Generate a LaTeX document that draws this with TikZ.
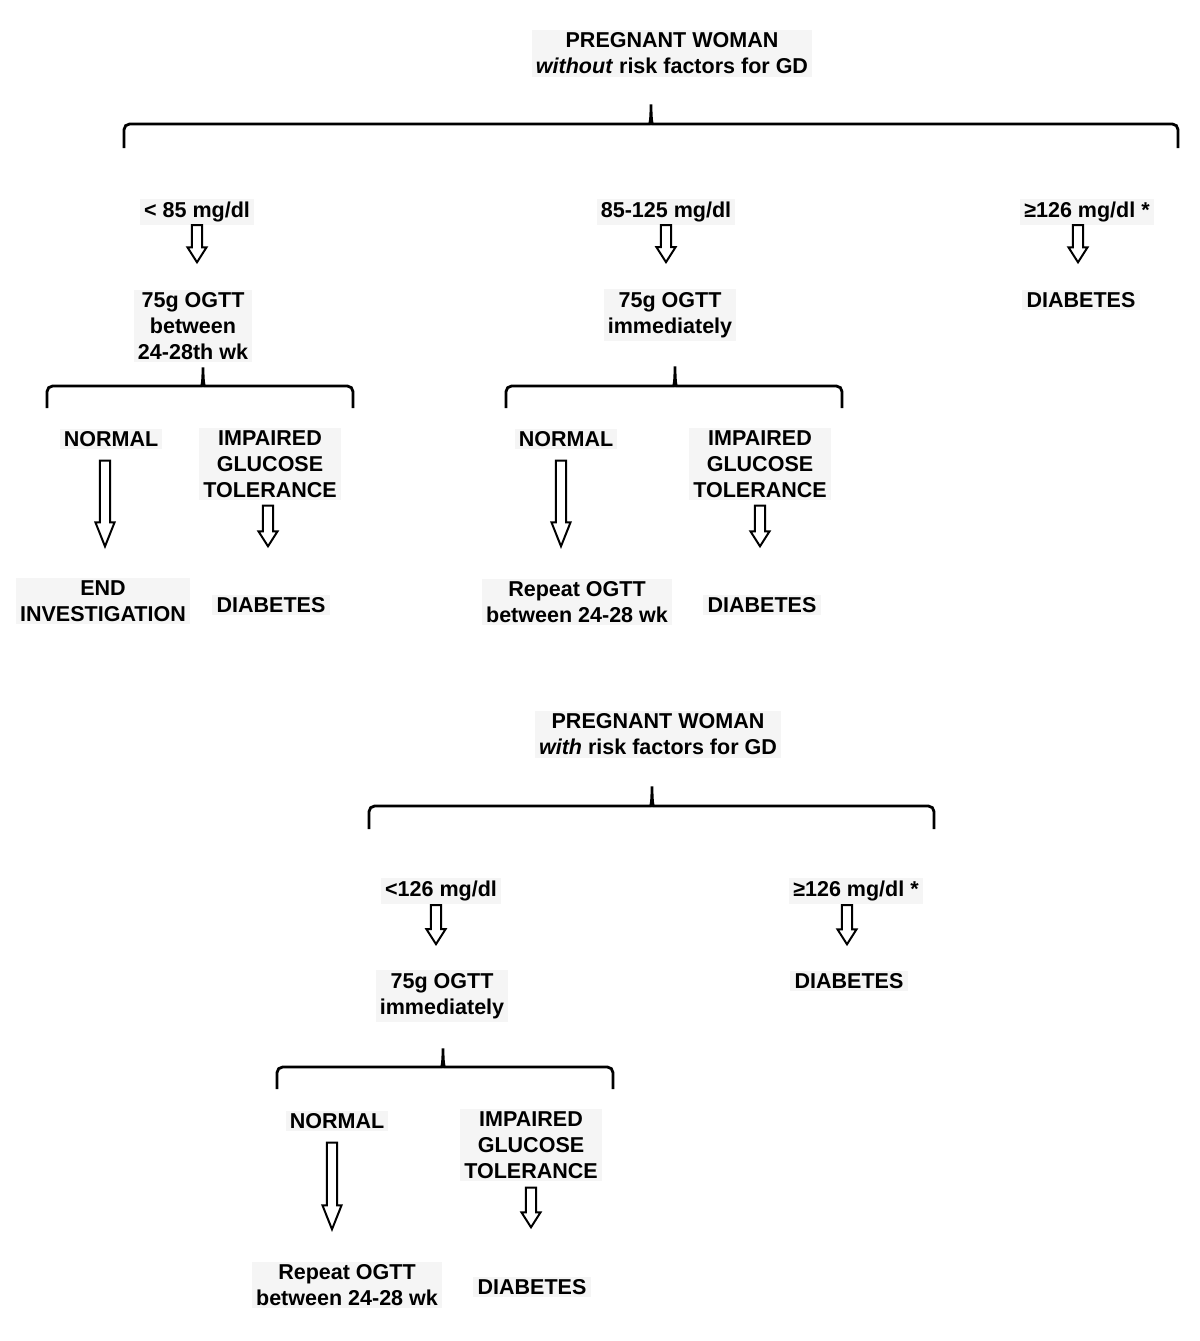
\documentclass[tikz,border=0pt]{standalone}
\usepackage{fontspec}
\setmainfont{Liberation Sans}
\usepackage{tikz}
\usetikzlibrary{calc}
\definecolor{boxgray}{RGB}{245,245,245}

\tikzset{
    lbl/.style={fill=boxgray, inner xsep=3pt, inner ysep=2pt, align=center,
        font=\fontsize{15.3}{18.5}\selectfont\bfseries},
    hollow/.style={draw=black, fill=white, line width=1.4pt, line join=miter},
    brace/.style={draw=black, line width=2pt, rounded corners=4}
}

% from, to, dx, start gap, end gap, head length (all in px)
\newcommand{\harrow}[6]{%
    \draw[hollow] let \p1=($(#1.south)+(#3,#4)$), \p2=($(#2.north)+(#3,-#5)$),
        \n1={#6*0.7113} in
        (\x1-3.6pt,\y1) -- (\x1+3.6pt,\y1) -- (\x1+3.6pt,\y2+\n1*1pt)
        -- (\x1+6.8pt,\y2+\n1*1pt) -- (\x1,\y2) -- (\x1-6.8pt,\y2+\n1*1pt)
        -- (\x1-3.6pt,\y2+\n1*1pt) -- cycle;}

% left, right, tip x, y, tip height, end depth
\newcommand{\gbrace}[6]{%
    \draw[brace] (#1,#4+#6) -- (#1,#4) -- (#3-7,#4)
        .. controls (#3-1,#4) and (#3,#4-6) .. (#3,#4-#5)
        .. controls (#3,#4-6) and (#3+1,#4) .. (#3+7,#4)
        -- (#2,#4) -- (#2,#4+#6);}

\begin{document}
\begin{tikzpicture}[x=0.025cm, y=-0.025cm]
                        \useasboundingbox (0,0) rectangle (1200,1341);

                        \node[lbl] (woman1) at (672,53.5) {PREGNANT WOMAN\\\textit{without} risk factors for GD};

                        \gbrace{124}{1178}{651}{124}{23}{24}

                        \node[lbl] (lowA) at (197,212) {< 85 mg/dl};
                        \node[lbl] (midA) at (666,212) {85-125 mg/dl};
                        \node[lbl] (highA) at (1087,212) {≥126 mg/dl *};

                        \node[lbl] (ogttA) at (193,326) {75g OGTT\\between\\24-28th wk};
                        \node[lbl] (ogttB) at (670,315) {75g OGTT\\immediately};
                        \node[lbl] (diabC) at (1081,300) {DIABETES};

                        \harrow{lowA}{ogttA}{0}{0}{27}{15}
                        \harrow{midA}{ogttB}{0}{0}{27}{15}
                        \harrow{highA}{diabC}{-9}{0}{27}{15}

                        \gbrace{47}{353}{203}{386}{22}{22}
                        \gbrace{506}{842}{675}{386}{23}{22}

                        \node[lbl] (normA) at (111,439) {NORMAL};
                        \node[lbl] (igtA) at (270,464) {IMPAIRED\\GLUCOSE\\TOLERANCE};
                        \node[lbl] (endA) at (103,601) {END\\INVESTIGATION};
                        \node[lbl] (diabA) at (271,605) {DIABETES};

                        \node[lbl] (normB) at (566,439) {NORMAL};
                        \node[lbl] (igtB) at (760,464) {IMPAIRED\\GLUCOSE\\TOLERANCE};
                        \node[lbl] (repB) at (577,602) {Repeat OGTT\\between 24-28 wk};
                        \node[lbl] (diabB) at (762,605) {DIABETES};

                        \harrow{normA}{endA}{-6}{11}{31}{24}
                        \harrow{igtA}{diabA}{-2}{5}{48}{15}
                        \harrow{normB}{repB}{-5}{11}{32}{24}
                        \harrow{igtB}{diabB}{0}{5}{48}{15}

                        \node[lbl] (woman2) at (658,734.5) {PREGNANT WOMAN\\\textit{with} risk factors for GD};

                        \gbrace{369}{934}{652}{806}{23}{23}

                        \node[lbl] (lowD) at (441,891) {<126 mg/dl};
                        \node[lbl] (highD) at (856,891) {≥126 mg/dl *};
                        \node[lbl] (ogttD) at (442,996) {75g OGTT\\immediately};
                        \node[lbl] (diabE) at (849,981) {DIABETES};

                        \harrow{lowD}{ogttD}{-5}{1}{26}{15}
                        \harrow{highD}{diabE}{-9}{1}{26}{15}

                        \gbrace{277}{613}{443}{1067}{22}{22}

                        \node[lbl] (normD) at (337,1121) {NORMAL};
                        \node[lbl] (igtD) at (531,1145) {IMPAIRED\\GLUCOSE\\TOLERANCE};
                        \node[lbl] (repD) at (347,1285) {Repeat OGTT\\between 24-28 wk};
                        \node[lbl] (diabD) at (532,1287) {DIABETES};

                        \harrow{normD}{repD}{-5}{11}{32}{24}
                        \harrow{igtD}{diabD}{0}{6}{49}{15}
                    \end{tikzpicture}
\end{document}
